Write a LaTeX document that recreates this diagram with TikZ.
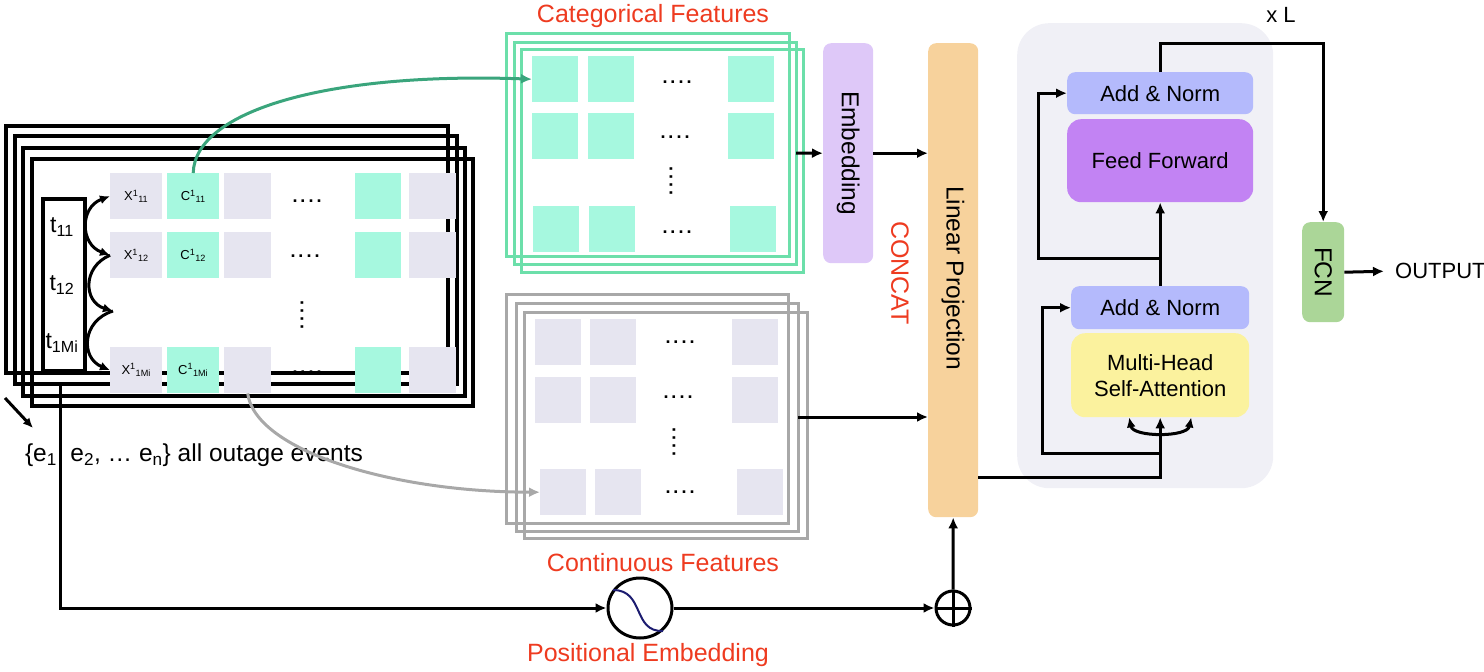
\documentclass[tikz,border=0pt]{standalone}
\usepackage{fontspec}
\setmainfont{Liberation Sans}
\usetikzlibrary{arrows.meta,shapes.geometric}
\definecolor{gcell}{HTML}{E6E5F0}
\definecolor{tcell}{HTML}{A6F8DF}
\definecolor{gframe}{HTML}{6CDFAA}
\definecolor{gcurve}{HTML}{3AA57C}
\definecolor{kframe}{HTML}{A8A8A8}
\definecolor{embc}{HTML}{DEC8F8}
\definecolor{linc}{HTML}{F7D29C}
\definecolor{trbg}{HTML}{F0F0F6}
\definecolor{anc}{HTML}{B4BAFC}
\definecolor{ffc}{HTML}{C283F3}
\definecolor{mhc}{HTML}{FBF29E}
\definecolor{fcnc}{HTML}{ABD698}
\definecolor{redc}{HTML}{EE3B20}
\definecolor{navyc}{HTML}{1C1C70}
\newcommand{\fourdots}{.\kern3pt.\kern3pt.\kern3pt.}
\begin{document}
\begin{tikzpicture}[x=1pt,y=-1pt,
  font=\fontsize{22}{26}\selectfont,
  arr/.style={line width=3pt, -{Latex[length=11pt,width=10pt]}},
  arrs/.style={line width=3pt, -{Latex[length=10pt,width=9pt]}},
  ln/.style={line width=3pt},
  bframe/.style={draw=black, line width=3.5pt},
  grframe/.style={draw=gframe, line width=3pt},
  cframe/.style={draw=kframe, line width=3pt},
  cellbase/.style={inner sep=0, anchor=north west, minimum height=46pt, font=\fontsize{13}{14}\selectfont},
  gc/.style={cellbase, fill=gcell, minimum width=#1},
  tc/.style={cellbase, fill=tcell, minimum width=#1},
  dots/.style={inner sep=0, font=\bfseries\fontsize{18}{18}\selectfont},
  redlbl/.style={text=redc, font=\fontsize{25}{28}\selectfont},
  vlbl/.style={rotate=-90, font=\fontsize{24.5}{28}\selectfont},
  blk/.style={rounded corners=8pt, inner sep=0, anchor=north west},
]
\useasboundingbox (0,0) rectangle (1484,672);

% ---------- left input stack ----------
\draw[bframe] (6,126) rectangle (448,373);
\draw[bframe] (15,136) rectangle (457,384);
\draw[bframe] (23,148) rectangle (465,396);
\draw[bframe] (32,159) rectangle (473,406);

\node[draw, line width=3.5pt, minimum width=42, minimum height=172, anchor=north west, inner sep=0] (tbox) at (41,197) {};
\node[font=\fontsize{23}{26}\selectfont] (t1) at (62,227) {t\textsubscript{11}};
\node[font=\fontsize{23}{26}\selectfont] (t2) at (62,285) {t\textsubscript{12}};
\node[font=\fontsize{23}{26}\selectfont] (t3) at (62,343) {t\textsubscript{1Mi}};

\node[gc=52] (x11) at (110,173) {X\textsuperscript{1}\textsubscript{11}};
\node[tc=52] (c11) at (167,173) {C\textsuperscript{1}\textsubscript{11}};
\node[gc=47] (g13) at (224,173) {};
\node[tc=46] (g14) at (355,173) {};
\node[gc=47] (g15) at (409,173) {};
\node[gc=52] (x12) at (110,232) {X\textsuperscript{1}\textsubscript{12}};
\node[tc=52] (c12) at (167,232) {C\textsuperscript{1}\textsubscript{12}};
\node[gc=47] (g23) at (224,232) {};
\node[tc=46] (g24) at (355,232) {};
\node[gc=47] (g25) at (409,232) {};
\node[gc=52] (x1m) at (110,347) {X\textsuperscript{1}\textsubscript{1Mi}};
\node[tc=52] (c1m) at (167,347) {C\textsuperscript{1}\textsubscript{1Mi}};
\node[gc=47] (g33) at (224,347) {};
\node[tc=46] (g34) at (355,347) {};
\node[gc=47] (g35) at (409,347) {};

\node[dots, anchor=base] (ld1) at (307,202) {\fourdots};
\node[dots, anchor=base] (ld2) at (305,257) {\fourdots};
\node[dots, rotate=90] (ld3) at (302,315) {\fourdots};
\node[dots, anchor=base] (ld4) at (307,373) {\fourdots};

\coordinate (mid) at (113,311);
\draw[line width=3pt, {Latex[length=10pt,width=9pt]}-{Latex[length=10pt,width=9pt]}] (x11.west) to[bend right=70, looseness=1.4] (x12.west);
\draw[arrs] (x12.west) to[bend right=70, looseness=1.4] (mid);
\draw[arrs] (mid) to[bend right=70, looseness=1.4] (x1m.west);

\coordinate (ea) at (5,398);
\coordinate (eb) at (33,428);
\draw[arrs] (ea) -- (eb);
\node[font=\fontsize{24.5}{28}\selectfont] (events) at (194,455) {\{e\textsubscript{1}, e\textsubscript{2}, \dots\ e\textsubscript{n}\} all outage events};

% ---------- categorical stack ----------
\node[redlbl] (catlbl) at (653,16) {Categorical Features};
\draw[grframe] (506,33) rectangle (789,256);
\draw[grframe] (514,42) rectangle (796,264);
\draw[grframe] (521,49) rectangle (803,272);
\foreach \x/\y [count=\i] in {532/56, 588/56, 728/56, 532/113, 588/113, 728/113, 533/206, 589/206, 730/206}
  \node[tc=46] (cat\i) at (\x,\y) {};
\node[dots, anchor=base] (cd1) at (677,83) {\fourdots};
\node[dots, anchor=base] (cd2) at (675,138) {\fourdots};
\node[dots, rotate=90] (cd3) at (671,181) {\fourdots};
\node[dots, anchor=base] (cd4) at (677,233) {\fourdots};

% ---------- continuous stack ----------
\draw[cframe] (506,294) rectangle (788,523);
\draw[cframe] (516,303) rectangle (798,531);
\draw[cframe] (524,312) rectangle (807,538);
\foreach \x/\y [count=\i] in {535/319, 590/319, 732/319, 535/377, 590/377, 732/377, 540/469, 595/469, 737/469}
  \node[gc=46] (con\i) at (\x,\y) {};
\node[dots, anchor=base] (kd1) at (680,343) {\fourdots};
\node[dots, anchor=base] (kd2) at (678,398) {\fourdots};
\node[dots, rotate=90] (kd3) at (674,442) {\fourdots};
\node[dots, anchor=base] (kd4) at (680,493) {\fourdots};
\node[redlbl] (conlbl) at (663,563) {Continuous Features};

% curves from input cells
\draw[gcurve, line width=3pt, -{Latex[length=11pt,width=10pt]}] (c11.north) .. controls (195,110) and (330,72) .. (cat1.west);
\draw[kframe, line width=3pt, -{Latex[length=11pt,width=10pt]}] (g33.south) .. controls (255,450) and (390,492) .. (con7.west);

% ---------- embedding / linear projection ----------
\node[blk, fill=embc, minimum width=50, minimum height=220] (emb) at (823,43) {};
\node[vlbl] (embt) at (emb.center) {Embedding};
\node[blk, fill=linc, minimum width=50, minimum height=474] (lin) at (928,43) {};
\node[vlbl] (lint) at (953,278) {Linear Projection};
\node[redlbl, rotate=-90] (concat) at (900,273) {CONCAT};

\coordinate (catout) at (796,153);
\coordinate (conout) at (798,417);
\draw[arr] (catout) -- (emb.west);
\draw[arr] (emb.east) -- (emb.east -| lin.west);
\draw[arr] (conout) -- (conout -| lin.west);

% ---------- positional embedding ----------
\coordinate (src) at (60,384);
\node[ellipse, draw, line width=3pt, minimum width=64, minimum height=60] (pe) at (640,608) {};
\draw[navyc, line width=2pt] (613,590) .. controls (645,590) and (632,632) .. (663,631);
\node[circle, draw, line width=3pt, minimum size=34, inner sep=0] (plus) at (953,608) {};
\draw[ln] (plus.north) -- (plus.south) (plus.west) -- (plus.east);
\draw[arr] (src) |- (pe.west);
\draw[arr] (pe.east) -- (plus.west);
\draw[arr] (plus.north) -- (lin.south);
\node[redlbl] (pelbl) at (648,655) {Positional Embedding};

% ---------- transformer block ----------
\node[fill=trbg, rounded corners=32pt, minimum width=256, minimum height=465, anchor=north west, inner sep=0] (trbox) at (1017,23) {};
\node[blk, fill=anc, minimum width=186, minimum height=42] (an1) at (1067,72) {Add \& Norm};
\node[blk, fill=ffc, minimum width=186, minimum height=83, rounded corners=14pt] (ff) at (1067,119) {Feed Forward};
\node[blk, fill=anc, minimum width=178, minimum height=43] (an2) at (1071,286) {Add \& Norm};
\node[blk, fill=mhc, minimum width=178, minimum height=84, rounded corners=14pt, align=center] (mh) at (1071,333) {Multi-Head\\Self-Attention};
\node (xl) at (1281,15) {x L};

\coordinate (lpout) at (978,477);
\coordinate (j1) at (1160,453);
\coordinate (j2) at (1160,258);
\draw[arr] (lpout) -| (mh.south);
\draw[arr] (j1) -- (1042,453) |- (an2.west);
\draw[line width=3pt, {Latex[length=10pt,width=9pt]}-{Latex[length=10pt,width=9pt]}] ([xshift=-31pt]mh.south) .. controls ([xshift=-27pt,yshift=-20pt]mh.south) and ([xshift=27pt,yshift=-20pt]mh.south) .. ([xshift=31pt]mh.south);
\draw[arr] (an2.north) -- (ff.south);
\draw[arr] (j2) -- (1038,258) |- (an1.west);

\node[blk, fill=fcnc, minimum width=42, minimum height=100] (fcn) at (1302,222) {};
\node[vlbl] (fcnt) at (fcn.center) {FCN};
\draw[arr] (an1.north) -- ++(0,-29) -| (fcn.north);
\node[anchor=west, inner sep=0] (out) at (1395,271) {OUTPUT};
\draw[arr, shorten >=11pt] (fcn.east) -- (out.west);
\end{tikzpicture}
\end{document}
